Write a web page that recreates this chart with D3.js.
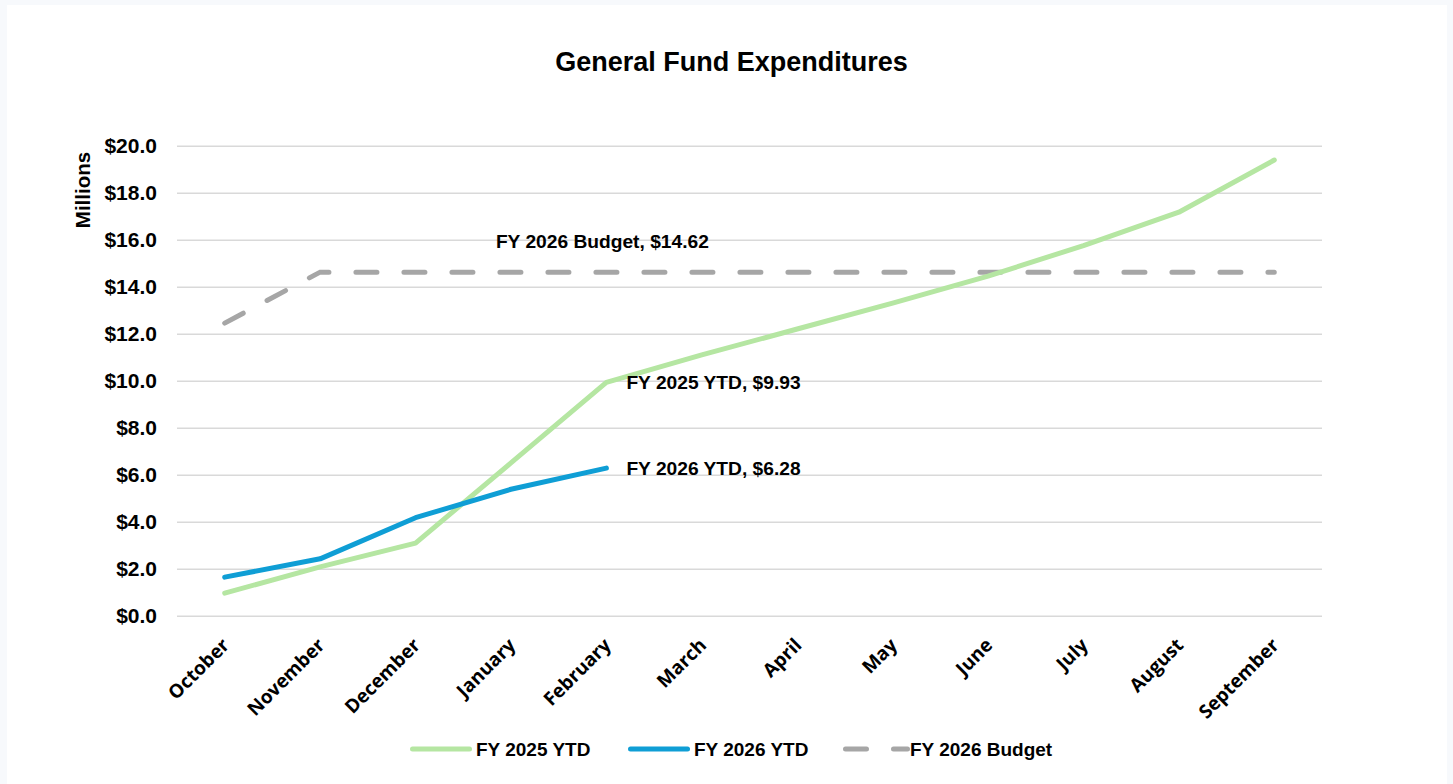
<!DOCTYPE html>
<html>
<head>
<meta charset="utf-8">
<script src="https://cdn.jsdelivr.net/npm/d3@7"></script>
<style>
html,body{margin:0;padding:0;background:#f7f9fc;}
svg{display:block;}
text{font-family:"Liberation Sans",Arial,sans-serif;font-weight:bold;fill:#000;}
</style>
</head>
<body>
<svg id="chart" width="1453" height="784"></svg>
<script>
const months = ["October","November","December","January","February","March","April","May","June","July","August","September"];
const fy2025 = [0.96, 2.08, 3.09, 6.5, 9.93, 11.1, 12.2, 13.3, 14.45, 15.75, 17.17, 19.39];
const fy2026 = [1.64, 2.42, 4.17, 5.38, 6.28];
const budget = [12.45, 14.62, 14.62, 14.62, 14.62, 14.62, 14.62, 14.62, 14.62, 14.62, 14.62, 14.62];
const yTicks = [0, 2, 4, 6, 8, 10, 12, 14, 16, 18, 20];
const seriesNames = ["FY 2025 YTD", "FY 2026 YTD", "FY 2026 Budget"];
const colors = ["#B5E6A2", "#0F9ED5", "#A6A6A6"];

const svg = d3.select("#chart");
svg.append("rect").attr("x",7).attr("y",5).attr("width",1440).attr("height",790).attr("fill","#fff");

const x = d3.scaleBand().domain(months).range([177, 1322]);
const y = d3.scaleLinear().domain([0, 20]).range([615.7, 145.7]);
const cx = m => x(m) + x.bandwidth()/2;

// title
svg.append("text").attr("x",731.5).attr("y",70.5).attr("text-anchor","middle")
  .style("font-size","27px").text("General Fund Expenditures");

// y axis label
svg.append("text").attr("transform","translate(90,190) rotate(-90)").attr("text-anchor","middle")
  .style("font-size","20.5px").text("Millions");

// gridlines
const yAxis = d3.axisLeft(y).tickValues(yTicks).tickSize(-(1322-177)).tickPadding(20)
  .tickFormat(d => "$" + d3.format(".1f")(d));
const gy = svg.append("g").attr("transform","translate(177,0)").call(yAxis);
gy.select(".domain").remove();
gy.selectAll(".tick line").attr("stroke","#D9D9D9").attr("stroke-width",1.5);
gy.selectAll(".tick text").style("font-size","21px").style("font-family","'Liberation Sans',Arial,sans-serif")
  .style("font-weight","bold").attr("fill","#000");

// x axis labels
const xAxis = d3.axisBottom(x).tickSize(0).tickPadding(0);
const gx = svg.append("g").attr("transform","translate(0,615.7)").call(xAxis);
gx.select(".domain").remove();
gx.selectAll(".tick text")
  .style("font-size","19px").style("font-family","'Open Sans','Liberation Sans',sans-serif").style("font-weight","bold")
  .attr("fill","#000")
  .attr("text-anchor","end")
  .attr("transform","translate(1,26) rotate(-45)")
  .attr("dy","0.35em").attr("y",0);

const line = d3.line().x((d,i) => cx(months[i])).y(d => y(d));

svg.append("path").datum(budget).attr("d", line).attr("fill","none")
  .attr("stroke",colors[2]).attr("stroke-width",5).attr("stroke-linecap","round")
  .attr("stroke-dasharray","21,27");
svg.append("path").datum(fy2025).attr("d", line).attr("fill","none")
  .attr("stroke",colors[0]).attr("stroke-width",5).attr("stroke-linecap","round").attr("stroke-linejoin","round");
svg.append("path").datum(fy2026).attr("d", line).attr("fill","none")
  .attr("stroke",colors[1]).attr("stroke-width",5).attr("stroke-linecap","round").attr("stroke-linejoin","round");

// data labels
const fi = 4;
svg.append("text").attr("x", cx(months[fi]) + 20).attr("y", y(fy2025[fi])).attr("dy","0.35em")
  .style("font-size","19.2px").text(seriesNames[0] + ", $" + fy2025[fi].toFixed(2));
svg.append("text").attr("x", cx(months[fi]) + 20).attr("y", y(fy2026[fi])).attr("dy","0.35em")
  .style("font-size","19.2px").text(seriesNames[1] + ", $" + fy2026[fi].toFixed(2));
svg.append("text").attr("x", cx(months[fi]) - 4).attr("y", y(budget[fi]) - 31).attr("dy","0.35em")
  .attr("text-anchor","middle")
  .style("font-size","19.2px").text(seriesNames[2] + ", $" + budget[fi].toFixed(2));

// legend
const legendX = [412.5, 630.5, 845.5];
const ly = 749;
seriesNames.forEach((n,i) => {
  const g = svg.append("g");
  g.append("line").attr("x1",legendX[i]).attr("x2",legendX[i] + (i===2?62:57)).attr("y1",ly).attr("y2",ly)
    .attr("stroke",colors[i]).attr("stroke-width",5).attr("stroke-linecap","round")
    .attr("stroke-dasharray", i===2 ? "21,27" : null);
  g.append("text").attr("x", legendX[i] + (i===2?64.5:63.5)).attr("y", ly).attr("dy","0.35em")
    .style("font-size","19px").text(n);
});
</script>
</body>
</html>
